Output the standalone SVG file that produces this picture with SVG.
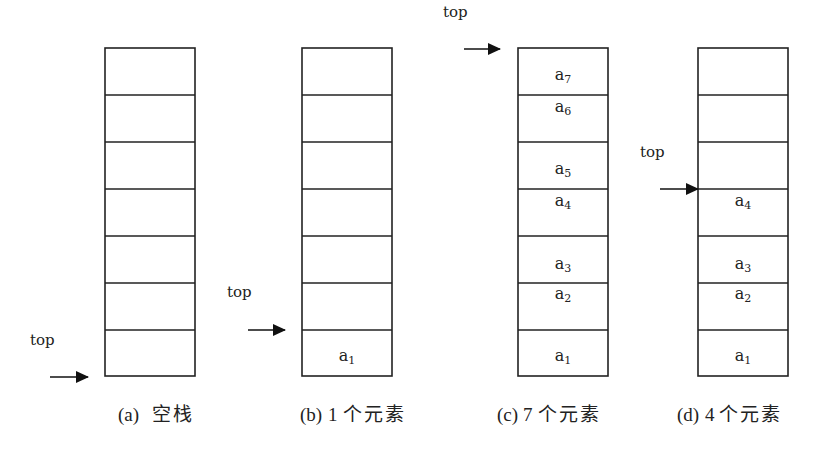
<svg xmlns="http://www.w3.org/2000/svg" width="818" height="449" viewBox="0 0 818 449">
<style>
.box{fill:#fff;stroke:#222;stroke-width:1.6}
.div{stroke:#222;stroke-width:1.6}
.lbl{font-family:"DejaVu Serif","Liberation Serif",serif;font-size:16px;fill:#222;text-anchor:middle}
.sub{font-size:11px}
.top{font-family:"DejaVu Serif","Liberation Serif",serif;font-size:15px;fill:#222}
.cap{font-family:"Liberation Serif","Noto Sans CJK SC",serif;font-size:19px;fill:#222}
.zh{letter-spacing:2px}
.arr{stroke:#111;stroke-width:1.6;fill:none;marker-end:url(#ah)}
</style>
<defs>
<marker id="ah" markerWidth="13" markerHeight="12" refX="12" refY="6" orient="auto" markerUnits="userSpaceOnUse">
<path d="M0,0 L13,6 L0,12 Z" fill="#111"/>
</marker>
<g id="cells">
<rect class="box" x="0" y="0" width="90" height="328"/>
<line class="div" x1="0" y1="47" x2="90" y2="47"/>
<line class="div" x1="0" y1="94" x2="90" y2="94"/>
<line class="div" x1="0" y1="141" x2="90" y2="141"/>
<line class="div" x1="0" y1="188" x2="90" y2="188"/>
<line class="div" x1="0" y1="235" x2="90" y2="235"/>
<line class="div" x1="0" y1="282" x2="90" y2="282"/>
</g>
</defs>
<rect width="818" height="449" fill="#fff"/>

<g id="stack-a">
<use href="#cells" x="105" y="48"/>
<text class="top" x="30" y="345">top</text>
<text class="cap" y="421"><tspan x="118">(a)</tspan><tspan class="zh" x="152">空栈</tspan></text>
</g>

<g id="stack-b">
<use href="#cells" x="302" y="48"/>
<text class="lbl" x="347" y="361">a<tspan class="sub" dy="3">1</tspan></text>
<text class="top" x="227" y="297">top</text>
<text class="cap" y="421"><tspan x="300">(b)</tspan><tspan x="328">1</tspan><tspan class="zh" x="343">个元素</tspan></text>
</g>

<g id="stack-c">
<use href="#cells" x="518" y="48"/>
<text class="lbl" x="563" y="80">a<tspan class="sub" dy="3">7</tspan></text>
<text class="lbl" x="563" y="112">a<tspan class="sub" dy="3">6</tspan></text>
<text class="lbl" x="563" y="174">a<tspan class="sub" dy="3">5</tspan></text>
<text class="lbl" x="563" y="206">a<tspan class="sub" dy="3">4</tspan></text>
<text class="lbl" x="563" y="269">a<tspan class="sub" dy="3">3</tspan></text>
<text class="lbl" x="563" y="299">a<tspan class="sub" dy="3">2</tspan></text>
<text class="lbl" x="563" y="361">a<tspan class="sub" dy="3">1</tspan></text>
<text class="top" x="443" y="17">top</text>
<text class="cap" y="421"><tspan x="497">(c)</tspan><tspan x="523">7</tspan><tspan class="zh" x="538">个元素</tspan></text>
</g>

<g id="stack-d">
<use href="#cells" x="698" y="48"/>
<text class="lbl" x="743" y="206">a<tspan class="sub" dy="3">4</tspan></text>
<text class="lbl" x="743" y="269">a<tspan class="sub" dy="3">3</tspan></text>
<text class="lbl" x="743" y="299">a<tspan class="sub" dy="3">2</tspan></text>
<text class="lbl" x="743" y="361">a<tspan class="sub" dy="3">1</tspan></text>
<text class="top" x="640" y="157">top</text>
<text class="cap" y="421"><tspan x="677">(d)</tspan><tspan x="705">4</tspan><tspan class="zh" x="719">个元素</tspan></text>
</g>

<g id="connectors">
<line class="arr" x1="50" y1="377" x2="88" y2="377"/>
<line class="arr" x1="248" y1="330" x2="285" y2="330"/>
<line class="arr" x1="464" y1="49" x2="500" y2="49"/>
<line class="arr" x1="660" y1="189" x2="698" y2="189"/>
</g>
</svg>
